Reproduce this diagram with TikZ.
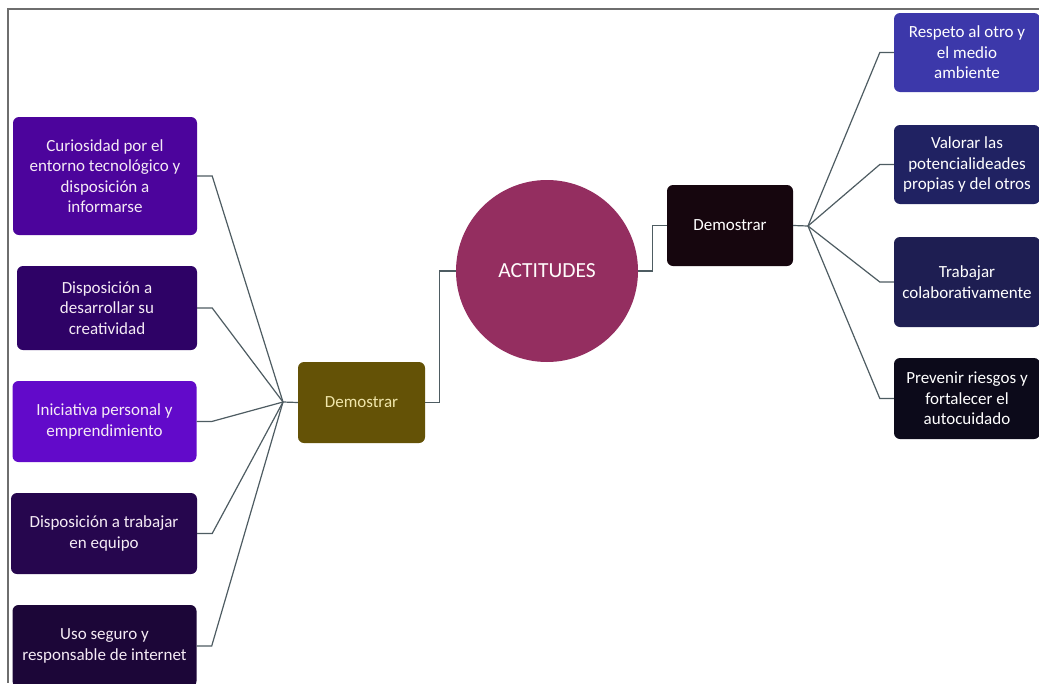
\documentclass[tikz,border=0pt]{standalone}
\usepackage{fontspec}
\setmainfont{Carlito}
\usetikzlibrary{calc}

\definecolor{cCurio}{RGB}{76,4,156}
\definecolor{cCrea}{RGB}{46,2,102}
\definecolor{cInic}{RGB}{98,10,202}
\definecolor{cEquipo}{RGB}{38,6,78}
\definecolor{cUso}{RGB}{28,6,56}
\definecolor{cDemL}{RGB}{100,82,6}
\definecolor{cCirc}{RGB}{148,46,96}
\definecolor{cDemR}{RGB}{22,6,14}
\definecolor{cResp}{RGB}{60,56,170}
\definecolor{cVal}{RGB}{32,34,98}
\definecolor{cTrab}{RGB}{30,30,82}
\definecolor{cPrev}{RGB}{12,10,26}
\definecolor{cLink}{RGB}{78,92,98}
\definecolor{cFrame}{RGB}{110,110,110}

\tikzset{
  box/.style={rounded corners=6pt, align=center, inner sep=0pt,
    font=\fontsize{17}{20.5}\selectfont, text=white},
  lbox/.style={box, minimum width=184pt, text=white!92!violet},
  rbox/.style={box, minimum width=146pt},
  link/.style={draw=cLink, line width=1.2pt},
}

\begin{document}
\begin{tikzpicture}[x=1pt,y=-1pt]
\useasboundingbox (0,0) rectangle (1039,683);
\clip (0,0) rectangle (1039,683);
\fill[white] (0,0) rectangle (1039,683);

% outer frame (top and left edges)
\draw[cFrame, line width=1.5pt] (1039,9) -- (8,9) -- (8,683);

% left column
\node[lbox, fill=cCurio,  minimum height=118pt] (l1) at (105,176)
  {Curiosidad por el\\entorno tecnológico y\\disposición a\\informarse};
\node[lbox, fill=cCrea,   minimum width=180pt, minimum height=84pt] (l2) at (107,308)
  {Disposición a\\desarrollar su\\creatividad};
\node[lbox, fill=cInic,   minimum height=81pt] (l3) at (104.5,421.5)
  {Iniciativa personal y\\emprendimiento};
\node[lbox, fill=cEquipo, minimum width=186pt, minimum height=81pt] (l4) at (104,533.5)
  {Disposición a trabajar\\en equipo};
\node[lbox, fill=cUso,    minimum height=82pt] (l5) at (104.5,646)
  {Uso seguro y\\responsable de internet};

% centre
\node[box, fill=cDemL, minimum width=127pt, minimum height=81pt,
      text={rgb,255:red,240;green,230;blue,170}] (dl) at (361.5,402.5) {Demostrar};
\node[circle, fill=cCirc, minimum size=182pt, inner sep=0pt, text=white!94!pink,
      font=\fontsize{21.5}{24}\selectfont] (circ) at (547,271) {ACTITUDES};
\node[box, fill=cDemR, minimum width=126pt, minimum height=81pt] (dr) at (730,225.5) {Demostrar};

% right column
\node[rbox, fill=cResp, minimum height=79pt] (r1) at (967,52.5)
  {Respeto al otro y\\el medio\\ambiente};
\node[rbox, fill=cVal,  minimum height=79pt] (r2) at (967,164.5)
  {Valorar las\\potencialideades\\propias y del otros};
\node[rbox, fill=cTrab, minimum height=90pt] (r3) at (967,282)
  {Trabajar\\colaborativamente};
\node[rbox, fill=cPrev, minimum height=81pt] (r4) at (967,398.5)
  {Prevenir riesgos y\\fortalecer el\\autocuidado};

% hubs
\coordinate (lh) at (283,402);
\coordinate (rh) at (808,226);

% connectors
\foreach \n in {l1,l2,l3,l4,l5}
  \draw[link] (\n.east) -- ++(15,0) -- (lh);
\draw[link] (lh) -- (dl.west);
\draw[link] (dl.east) -- ++(14,0) |- (circ.west);
\draw[link] (circ.east) -- ++(14,0) |- (dr.west);
\draw[link] (dr.east) -- (rh);
\foreach \n in {r1,r2,r3,r4}
  \draw[link] (rh) -- ($(\n.west)+(-14,0)$) -- (\n.west);
\end{tikzpicture}
\end{document}
